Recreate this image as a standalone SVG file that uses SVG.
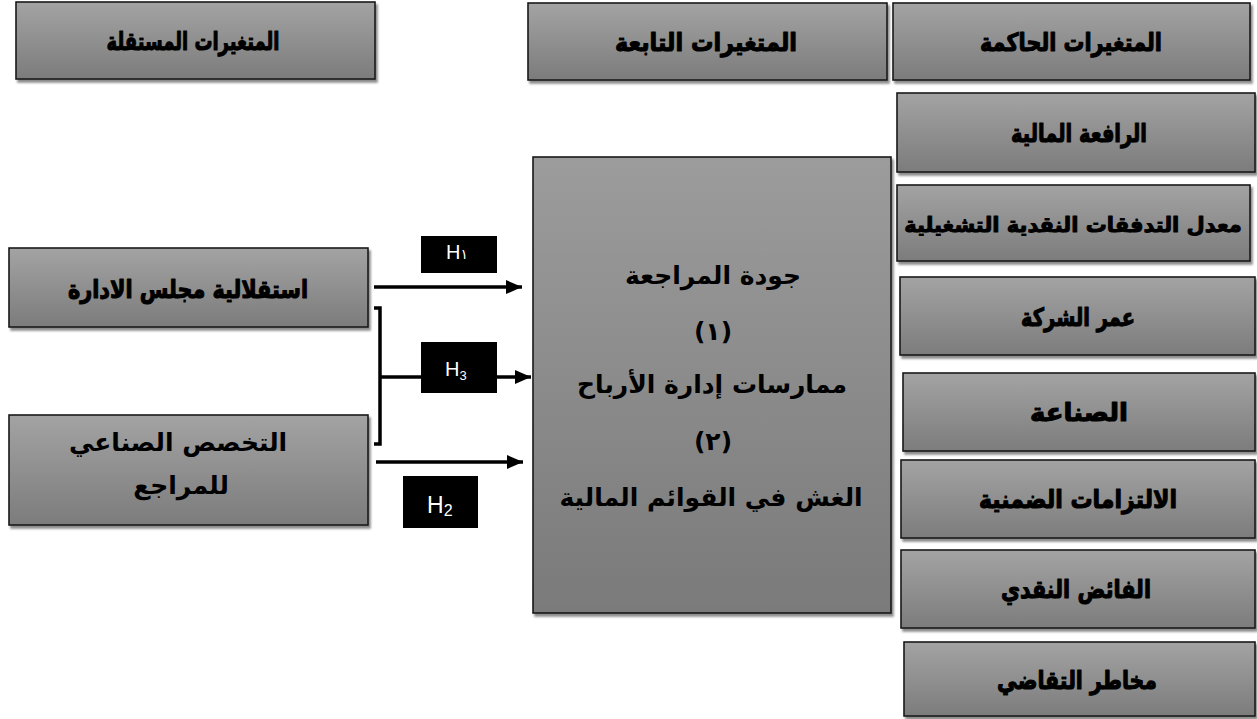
<svg xmlns="http://www.w3.org/2000/svg" width="1257" height="719" viewBox="0 0 1257 719">
<defs>
<linearGradient id="g" x1="0" y1="0" x2="0" y2="1">
<stop offset="0" stop-color="#a3a3a3"/>
<stop offset="1" stop-color="#7c7c7c"/>
</linearGradient>
<linearGradient id="gc" x1="0" y1="0" x2="0" y2="1">
<stop offset="0" stop-color="#9c9c9c"/>
<stop offset="1" stop-color="#7a7a7a"/>
</linearGradient>
<filter id="sh" x="-5%" y="-5%" width="112%" height="120%">
<feDropShadow dx="2" dy="3" stdDeviation="1.2" flood-color="#000" flood-opacity="0.45"/>
</filter>
<marker id="ah" viewBox="0 0 16 14" refX="16" refY="7" markerWidth="16" markerHeight="14" markerUnits="userSpaceOnUse" orient="auto">
<path d="M0,0 L16,7 L0,14 Z" fill="#000"/>
</marker>
<style>
.box{fill:url(#g);stroke:#1a1a1a;stroke-width:1.6;filter:url(#sh)}
.cbox{fill:url(#gc);stroke:#1a1a1a;stroke-width:1.6;filter:url(#sh)}
.hd{font-family:"DejaVu Sans",sans-serif;font-weight:bold;font-size:25px;fill:#000;stroke:#000;stroke-width:1.1;stroke-linejoin:round;text-anchor:middle}
.lt{font-family:"DejaVu Sans",sans-serif;font-weight:bold;font-size:25px;fill:#000;text-anchor:middle}
.hb{fill:#000}
.hl{font-family:"Liberation Sans",Arial,sans-serif;font-size:20px;fill:#fff}
.ln{stroke:#000;stroke-width:3.5;fill:none}
</style>
</defs>

<g id="n-independent">
<rect class="box" x="16" y="2" width="359" height="77"/>
<text class="hd" x="193" y="50" direction="rtl" textLength="173" lengthAdjust="spacingAndGlyphs">المتغيرات المستقلة</text>
</g>
<g id="n-dependent">
<rect class="box" x="528" y="3" width="359" height="77"/>
<text class="hd" x="706" y="51" direction="rtl" textLength="182" lengthAdjust="spacingAndGlyphs">المتغيرات التابعة</text>
</g>
<g id="n-control">
<rect class="box" x="893" y="3" width="357" height="77"/>
<text class="hd" x="1071" y="51" direction="rtl" textLength="182" lengthAdjust="spacingAndGlyphs">المتغيرات الحاكمة</text>
</g>
<g id="n-leverage">
<rect class="box" x="897" y="93" width="358" height="79"/>
<text class="hd" x="1079" y="142" direction="rtl" textLength="136" lengthAdjust="spacingAndGlyphs">الرافعة المالية</text>
</g>
<g id="n-cashflow">
<rect class="box" x="897" y="185" width="353" height="76"/>
<text class="hd" x="1073" y="232" direction="rtl" style="font-size:21px;stroke-width:1px">معدل التدفقات النقدية التشغيلية</text>
</g>
<g id="n-age">
<rect class="box" x="900" y="277" width="355" height="78"/>
<text class="hd" x="1078" y="326" direction="rtl" textLength="114" lengthAdjust="spacingAndGlyphs">عمر الشركة</text>
</g>
<g id="n-industry">
<rect class="box" x="903" y="373" width="352" height="78"/>
<text class="hd" x="1079" y="421" direction="rtl" textLength="98" lengthAdjust="spacingAndGlyphs">الصناعة</text>
</g>
<g id="n-implicit">
<rect class="box" x="901" y="460" width="354" height="78"/>
<text class="hd" x="1078" y="508" direction="rtl" textLength="198" lengthAdjust="spacingAndGlyphs">الالتزامات الضمنية</text>
</g>
<g id="n-surplus">
<rect class="box" x="901" y="550" width="354" height="78"/>
<text class="hd" x="1076" y="598" direction="rtl" textLength="150" lengthAdjust="spacingAndGlyphs">الفائض النقدي</text>
</g>
<g id="n-litigation">
<rect class="box" x="904" y="642" width="351" height="74"/>
<text class="hd" x="1077" y="689" direction="rtl" textLength="160" lengthAdjust="spacingAndGlyphs">مخاطر التقاضي</text>
</g>

<g id="n-board">
<rect class="box" x="9" y="248" width="359" height="79"/>
<text class="hd" x="188" y="298" direction="rtl" textLength="240" lengthAdjust="spacingAndGlyphs">استقلالية مجلس الادارة</text>
</g>
<g id="n-specialist">
<rect class="box" x="9" y="415" width="359" height="110"/>
<text class="lt" x="178" y="451" direction="rtl">التخصص الصناعي</text>
<text class="lt" x="181" y="494" direction="rtl">للمراجع</text>
</g>

<g id="n-quality">
<rect class="cbox" x="533" y="157" width="358" height="456"/>
<text class="lt" x="713" y="284" direction="rtl">جودة المراجعة</text>
<text class="lt" x="713" y="340">(١)</text>
<text class="lt" x="712" y="393" direction="rtl">ممارسات إدارة الأرباح</text>
<text class="lt" x="713" y="450">(٢)</text>
<text class="lt" x="711" y="506" direction="rtl">الغش في القوائم المالية</text>
</g>

<g id="connectors">
<line class="ln" x1="374" y1="287" x2="522" y2="287" marker-end="url(#ah)"/>
<path class="ln" d="M374,308 H380 V444 H374"/>
<line class="ln" x1="380" y1="377" x2="531" y2="377" marker-end="url(#ah)"/>
<line class="ln" x1="376" y1="462" x2="523" y2="462" marker-end="url(#ah)"/>
</g>

<g id="h1">
<rect class="hb" x="421" y="236" width="76" height="37"/>
<text class="hl" x="446" y="259">H<tspan style="font-size:14px;font-family:'DejaVu Sans',sans-serif">١</tspan></text>
</g>
<g id="h3">
<rect class="hb" x="421" y="342" width="76" height="51"/>
<text class="hl" x="445" y="376">H<tspan style="font-size:13px" dy="4">3</tspan></text>
</g>
<g id="h2">
<rect class="hb" x="403" y="476" width="75" height="52"/>
<text class="hl" x="427" y="513" style="font-size:23px">H<tspan style="font-size:16px" dy="3">2</tspan></text>
</g>
</svg>
